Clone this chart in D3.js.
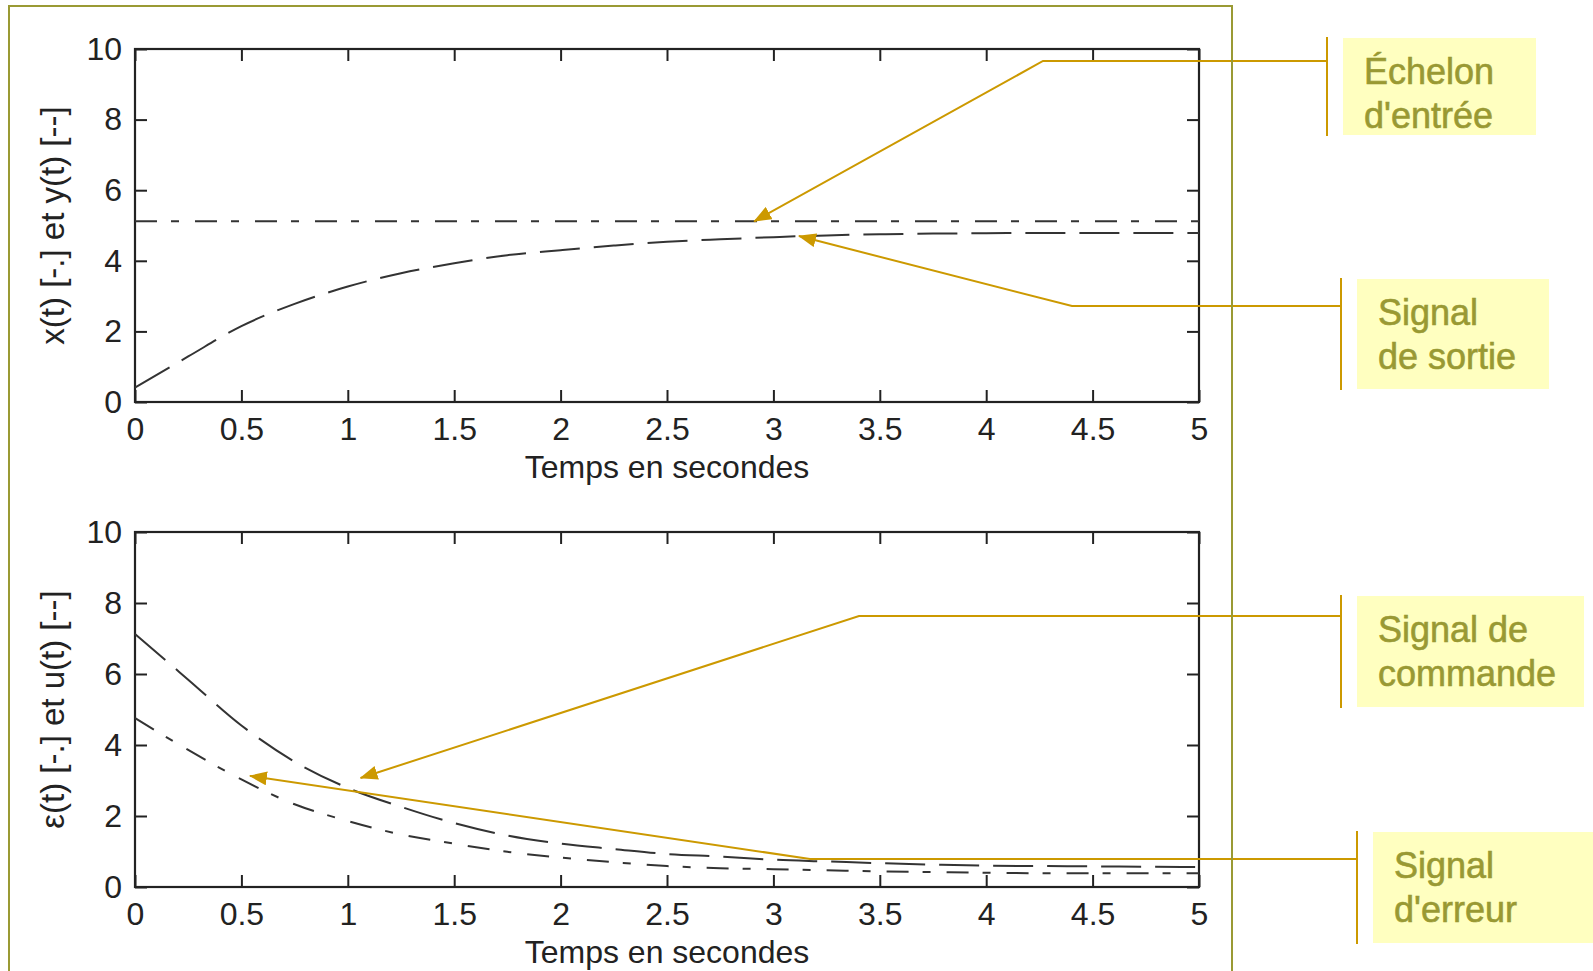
<!DOCTYPE html>
<html>
<head>
<meta charset="utf-8">
<script src="https://cdn.jsdelivr.net/npm/d3@7"></script>
<style>
    body { margin: 0; background: #fff; }
    svg { display: block; }
    .tick text { font-family: "Liberation Sans", Arial, sans-serif; font-size: 32px; fill: #222; }
</style>
</head>
<body>
<div id="chart"></div>
<script>
    // valeurs
    var temps = [0, 0.25, 0.5, 0.75, 1, 1.25, 1.5, 1.75, 2, 2.25, 2.5, 2.75, 3, 3.25, 3.5, 3.75, 4, 4.25, 4.5, 4.75, 5];
    var echelon = [5.12, 5.12, 5.12, 5.12, 5.12, 5.12, 5.12, 5.12, 5.12, 5.12, 5.12, 5.12, 5.12, 5.12, 5.12, 5.12, 5.12, 5.12, 5.12, 5.12, 5.12];
    var sortie = [0.41, 1.29, 2.15, 2.78, 3.27, 3.65, 3.93, 4.16, 4.30, 4.43, 4.54, 4.61, 4.67, 4.72, 4.75, 4.77, 4.78, 4.79, 4.79, 4.79, 4.79];
    var commande = [7.13, 5.84, 4.55, 3.53, 2.79, 2.26, 1.80, 1.45, 1.22, 1.07, 0.93, 0.86, 0.77, 0.72, 0.67, 0.63, 0.60, 0.59, 0.58, 0.57, 0.56];
    var erreur = [4.76, 3.86, 3.03, 2.33, 1.86, 1.48, 1.22, 0.99, 0.83, 0.70, 0.59, 0.53, 0.50, 0.47, 0.44, 0.42, 0.40, 0.39, 0.39, 0.39, 0.39];

    var xTicks = [0, 0.5, 1, 1.5, 2, 2.5, 3, 3.5, 4, 4.5, 5];
    var yTicks = [0, 2, 4, 6, 8, 10];
    var xLabel = "Temps en secondes";
    var yLabels = ["x(t) [-.] et y(t) [--]", "\u03b5(t) [-.] et u(t) [--]"];

    var width = 1593;
    var height = 971;
    var gold = "#cc9900";
    var olive = "#9a9a34";

    var svg = d3.select("#chart").append("svg")
        .attr("width", width)
        .attr("height", height);

    var x = d3.scaleLinear().domain([0, 5]).range([135, 1199]);

    function drawPanel(top, bottom, series, yLabel) {
        var y = d3.scaleLinear().domain([0, 10]).range([bottom, top]);
        var g = svg.append("g");

        var fmt = function (d) { return String(d); };

        g.append("g")
            .attr("transform", "translate(0," + bottom + ")")
            .call(d3.axisBottom(x).tickValues(xTicks).tickFormat(fmt).tickSize(-12).tickSizeOuter(0).tickPadding(15));
        g.append("g")
            .attr("transform", "translate(0," + top + ")")
            .call(d3.axisTop(x).tickValues(xTicks).tickFormat("").tickSize(-12).tickSizeOuter(0));
        g.append("g")
            .attr("transform", "translate(" + x(0) + ",0)")
            .call(d3.axisLeft(y).tickValues(yTicks).tickFormat(fmt).tickSize(-12).tickSizeOuter(0).tickPadding(13));
        g.append("g")
            .attr("transform", "translate(" + x(5) + ",0)")
            .call(d3.axisRight(y).tickValues(yTicks).tickFormat("").tickSize(-12).tickSizeOuter(0));

        g.selectAll(".domain").remove();
        g.selectAll(".tick line").attr("stroke", "#222").attr("stroke-width", 2);

        // cadre des axes
        g.append("rect")
            .attr("x", x(0))
            .attr("y", top)
            .attr("width", x(5) - x(0))
            .attr("height", bottom - top)
            .attr("fill", "none")
            .attr("stroke", "#222")
            .attr("stroke-width", 2.2);

        var line = d3.line()
            .x(function (d) { return x(d[0]); })
            .y(function (d) { return y(d[1]); })
            .curve(d3.curveMonotoneX);

        series.forEach(function (s) {
            g.append("path")
                .datum(d3.zip(temps, s.values))
                .attr("d", line)
                .attr("fill", "none")
                .attr("stroke", "#333")
                .attr("stroke-width", 2)
                .attr("stroke-dasharray", s.dash);
        });

        g.append("text")
            .attr("x", (x(0) + x(5)) / 2)
            .attr("y", bottom + 76)
            .attr("text-anchor", "middle")
            .style("font-family", "Liberation Sans, Arial, sans-serif")
            .style("font-size", "32px")
            .attr("fill", "#222")
            .text(xLabel);

        g.append("text")
            .attr("transform", "translate(64," + ((top + bottom) / 2) + ") rotate(-90)")
            .attr("text-anchor", "middle")
            .style("font-family", "Liberation Sans, Arial, sans-serif")
            .style("font-size", "33px")
            .attr("fill", "#222")
            .text(yLabel);

        return y;
    }

    var dashDot = "22,14,8,16";
    var dashed = "40,14";

    var y1 = drawPanel(49, 402, [
        { values: echelon, dash: dashDot },
        { values: sortie, dash: dashed }
    ], yLabels[0]);

    var y2 = drawPanel(532, 887, [
        { values: commande, dash: dashed },
        { values: erreur, dash: dashDot }
    ], yLabels[1]);

    // annotations (fleches + bulles)
    svg.append("defs").append("marker")
        .attr("id", "tete")
        .attr("viewBox", "0 0 18 14")
        .attr("refX", 17)
        .attr("refY", 7)
        .attr("markerWidth", 18)
        .attr("markerHeight", 14)
        .attr("markerUnits", "userSpaceOnUse")
        .attr("orient", "auto")
        .append("path")
        .attr("d", "M0,0L18,7L0,14Z")
        .attr("fill", gold);

    var notes = [
        { lines: ["\u00c9chelon", "d'entr\u00e9e"], tipT: 2.91, tipV: 5.12, plot: 1, elbowX: 1043, lineY: 61, barX: 1327, boxX: 1343, boxTop: 38, boxW: 193, boxH: 97 },
        { lines: ["Signal", "de sortie"], tipT: 3.12, tipV: 4.70, plot: 1, elbowX: 1072, lineY: 306, barX: 1341, boxX: 1357, boxTop: 279, boxW: 192, boxH: 110 },
        { lines: ["Signal de", "commande"], tipT: 1.06, tipV: 3.07, plot: 2, elbowX: 859, lineY: 616, barX: 1341, boxX: 1357, boxTop: 596, boxW: 227, boxH: 111 },
        { lines: ["Signal", "d'erreur"], tipT: 0.54, tipV: 3.13, plot: 2, elbowX: 810, lineY: 859, barX: 1357, boxX: 1373, boxTop: 832, boxW: 220, boxH: 111 }
    ];

    var ann = svg.append("g");
    notes.forEach(function (n) {
        var yy = n.plot === 1 ? y1 : y2;
        ann.append("polyline")
            .attr("points", [[n.barX, n.lineY], [n.elbowX, n.lineY], [x(n.tipT), yy(n.tipV)]].join(" "))
            .attr("fill", "none")
            .attr("stroke", gold)
            .attr("stroke-width", 2)
            .attr("marker-end", "url(#tete)");
        ann.append("line")
            .attr("x1", n.barX).attr("x2", n.barX)
            .attr("y1", n.boxTop - 1).attr("y2", n.boxTop + n.boxH + 1)
            .attr("stroke", gold)
            .attr("stroke-width", 2);
        ann.append("rect")
            .attr("x", n.boxX)
            .attr("y", n.boxTop)
            .attr("width", n.boxW)
            .attr("height", n.boxH)
            .attr("fill", "#ffffc0");
        n.lines.forEach(function (t, i) {
            ann.append("text")
                .attr("x", n.boxX + 21)
                .attr("y", n.boxTop + 46 + i * 44)
                .style("font-family", "Liberation Sans, Arial, sans-serif")
                .style("font-size", "36px")
                .attr("fill", "#999933")
                .attr("stroke", "#999933")
                .attr("stroke-width", 0.6)
                .text(t);
        });
    });

    // cadre exterieur
    svg.append("rect")
        .attr("x", 9)
        .attr("y", 6)
        .attr("width", 1223)
        .attr("height", 1000)
        .attr("fill", "none")
        .attr("stroke", olive)
        .attr("stroke-width", 2);
</script>
</body>
</html>
